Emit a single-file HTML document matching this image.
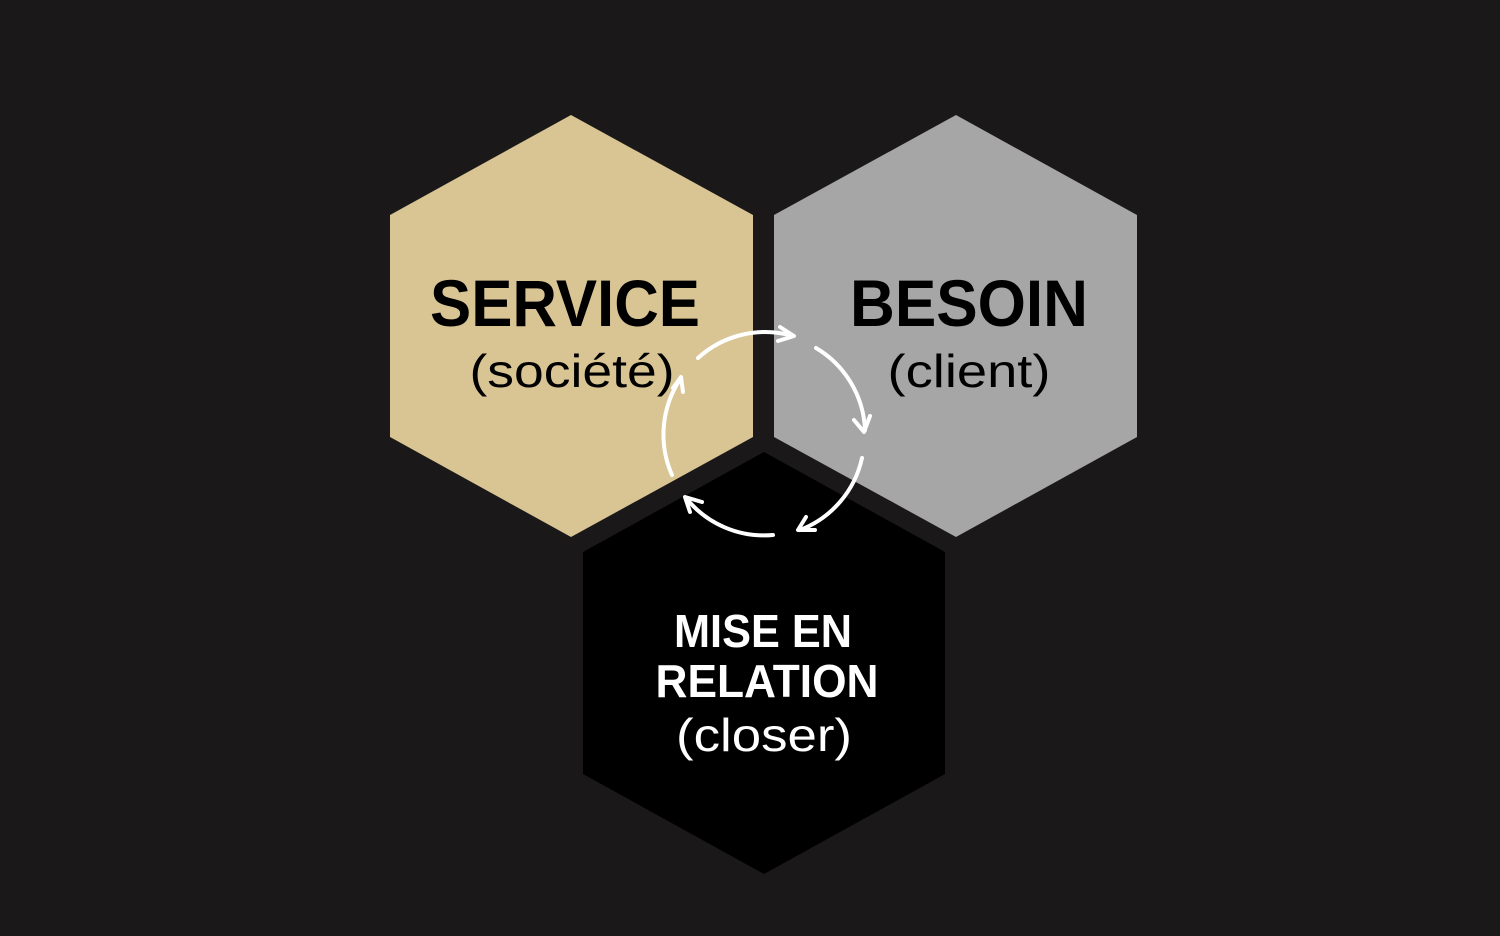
<!DOCTYPE html>
<html><head><meta charset="utf-8"><style>
html,body{margin:0;padding:0;background:#1a1819;}
svg{display:block}
</style></head><body>
<svg width="1500" height="936" viewBox="0 0 1500 936" xmlns="http://www.w3.org/2000/svg">
<rect width="1500" height="936" fill="#1a1819"/>
<polygon points="571,115 753,215 753,437 571,537 390,437 390,215" fill="#d9c594"/>
<polygon points="956,115 1137,215 1137,437 956,537 774,437 774,215" fill="#a6a6a6"/>
<polygon points="764,452 945,552 945,774 764,874 583,774 583,552" fill="#000"/>
<g font-family="Liberation Sans, sans-serif" text-anchor="middle">
<text x="565" y="326" font-size="66" font-weight="bold" fill="#000" textLength="270" lengthAdjust="spacingAndGlyphs">SERVICE</text>
<text x="572" y="387" font-size="46" fill="#000" textLength="205" lengthAdjust="spacingAndGlyphs">(société)</text>
<text x="969" y="326" font-size="66" font-weight="bold" fill="#000" textLength="238" lengthAdjust="spacingAndGlyphs">BESOIN</text>
<text x="969" y="387" font-size="46" fill="#000" textLength="163" lengthAdjust="spacingAndGlyphs">(client)</text>
<text x="763" y="647" font-size="46" font-weight="bold" fill="#fff" textLength="178" lengthAdjust="spacingAndGlyphs">MISE EN</text>
<text x="767" y="697" font-size="46" font-weight="bold" fill="#fff" textLength="223" lengthAdjust="spacingAndGlyphs">RELATION</text>
<text x="764" y="751" font-size="46" fill="#fff" textLength="176" lengthAdjust="spacingAndGlyphs">(closer)</text>
</g>
<g fill="none" stroke="#fff" stroke-width="4" stroke-linecap="round" stroke-linejoin="round">
<path d="M698,358 A100,100 0 0 1 793,336"/>
<polyline points="780,327 794,336 778,341"/>
<path d="M816,348 A100,100 0 0 1 865,430"/>
<polyline points="854,420 864,432 870,416"/>
<path d="M862,458 A100,100 0 0 1 800,530"/>
<polyline points="806,517 798,530 815,530"/>
<path d="M773,535 A100,100 0 0 1 686,498"/>
<polyline points="702,502 685,497 690,512"/>
<path d="M672,475 A100,100 0 0 1 681,378"/>
<polyline points="673,388 681,377 683,392"/>
</g>
</svg>
</body></html>
